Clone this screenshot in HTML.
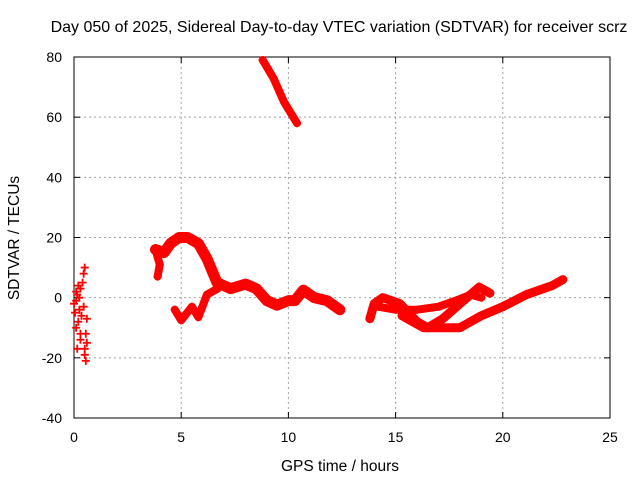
<!DOCTYPE html>
<html><head><meta charset="utf-8"><style>
body{margin:0;background:#fff;}
svg{display:block;font-family:"Liberation Sans",sans-serif;}
</style></head><body>
<svg id="chart" width="640" height="480">
<text x="339" y="32" font-size="16" text-anchor="middle">Day 050 of 2025, Sidereal Day-to-day VTEC variation (SDTVAR) for receiver scrz</text>
<text x="340" y="471" font-size="15.5" text-anchor="middle">GPS time / hours</text>
<text transform="translate(19,238) rotate(-90)" font-size="15.5" text-anchor="middle">SDTVAR / TECUs</text>
<g id="grid"></g><g id="axes"></g><g id="marks"></g>
</svg>
<script>
const xTicks=[0,5,10,15,20,25];
const yTicks=[-40,-20,0,20,40,60,80];
const scatterEarly=[[0.0,-2],[0.05,-5],[0.1,2],[0.1,-10],[0.15,-17],[0.2,4],[0.2,-8],[0.25,0],[0.3,3],[0.3,-14],[0.35,-6],[0.4,5],[0.45,8],[0.45,-3],[0.5,10],[0.5,-19],[0.55,-12],[0.55,-21],[0.6,-7],[0.6,-15],[0.1,-1],[0.3,-12],[0.5,-17],[0.15,1],[0.25,-4]];
const bandMain=[[3.8,16],[4.2,15],[4.5,18],[4.9,20],[5.3,20],[5.8,18],[6.2,13],[6.67,5],[7.3,3],[8.0,4.5],[8.5,3],[9.0,-1],[9.47,-2.5],[10.0,-1],[10.3,-1],[10.7,2.5],[11.2,0],[11.8,-1],[12.4,-4]];
const bandLower=[[4.7,-4],[5.0,-7.5],[5.5,-3],[5.8,-6.5],[6.2,1],[6.7,3]];
const bandSpur=[[3.8,16],[4.0,11],[3.9,7]];
const bandTop=[[8.8,79],[9.3,73],[9.8,65],[10.4,58]];
const bandR1=[[13.8,-7],[14.0,-2],[14.4,0],[15.2,-2],[16.0,-8],[16.5,-10],[17.2,-7],[18.0,-2],[18.9,3.5],[19.4,1.5]];
const bandR2=[[14.2,-3],[15.0,-4],[16.0,-4],[17.0,-3],[17.8,-1],[18.5,1],[19.0,0]];
const bandR3=[[15.3,-6],[16.3,-10],[17.0,-10],[18.0,-10],[19.0,-6],[20.0,-3],[21.1,1],[22.3,4],[22.8,6]];
const sx=h=>74+h*(536/25);
const sy=v=>418-(v+40)*(361/120);
const NS="http://www.w3.org/2000/svg";
function mk(t,a,p){const e=document.createElementNS(NS,t);for(const k in a)e.setAttribute(k,a[k]);p.appendChild(e);return e;}
const grid=document.getElementById('grid'),axes=document.getElementById('axes'),marks=document.getElementById('marks');
xTicks.forEach(t=>{
 if(t>0&&t<25){const l=mk('line',{x1:sx(t),x2:sx(t),y1:57,y2:418,stroke:'#a0a0a0','stroke-dasharray':'2,3'},grid);
 
 }
 const tl=mk('text',{x:sx(t),y:442,'font-size':14,'text-anchor':'middle'},axes);tl.textContent=t;
 
 
 mk('line',{x1:sx(t),x2:sx(t),y1:418,y2:412,stroke:'#000'},axes);mk('line',{x1:sx(t),x2:sx(t),y1:57,y2:63,stroke:'#000'},axes);
});
yTicks.forEach(t=>{
 if(t>-40&&t<80){const l=mk('line',{x1:74,x2:610,y1:sy(t),y2:sy(t),stroke:'#a0a0a0','stroke-dasharray':'2,3'},grid);
 
 }
 const tl=mk('text',{x:62,y:sy(t)+5,'font-size':14,'text-anchor':'end'},axes);tl.textContent=t;
 
 
 mk('line',{x1:74,x2:80,y1:sy(t),y2:sy(t),stroke:'#000'},axes);mk('line',{x1:610,x2:604,y1:sy(t),y2:sy(t),stroke:'#000'},axes);
});
const fr=mk('rect',{x:74,y:57,width:536,height:361,fill:'none',stroke:'#000'},axes);


function plus(h,v,name){
 const g=mk('path',{d:`M${sx(h)-4},${sy(v)}h8M${sx(h)},${sy(v)-4}v8`,stroke:'#ff0000','stroke-width':1.8,fill:'none'},marks);
 
 
}
function band(arr,name,w){
 const p=mk('polyline',{points:arr.map(d=>sx(d[0])+','+sy(d[1])).join(' '),fill:'none',stroke:'#ff0000','stroke-width':w,'stroke-linejoin':'round','stroke-linecap':'round'},marks);
 
 
 arr.forEach(d=>plus(d[0],d[1],name+'-point'));
}
scatterEarly.forEach(d=>plus(d[0],d[1],'early-point'));
band(bandMain,'series-main',11);
band(bandLower,'series-lower',8);
band(bandSpur,'series-spur',8);
band(bandTop,'series-top',8);
band(bandR1,'series-late-1',9);
band(bandR2,'series-late-2',8);
band(bandR3,'series-late-3',9);
</script>
</body></html>
